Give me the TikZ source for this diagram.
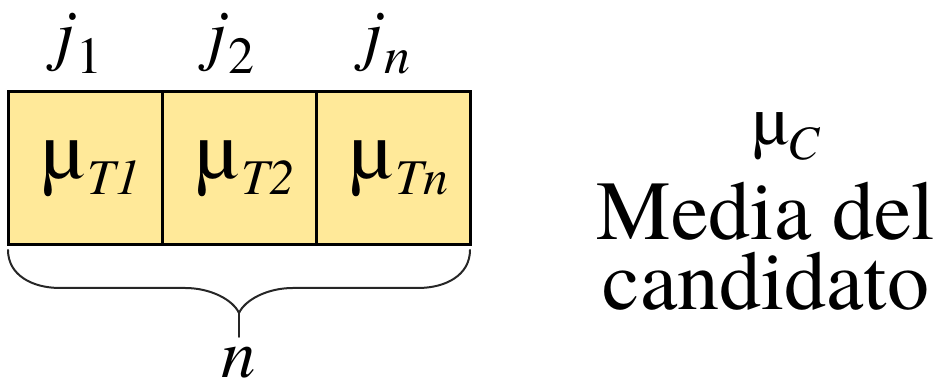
\documentclass[tikz,border=0pt]{standalone}
\usepackage{fontspec}
\setmainfont{texgyretermes}[Extension=.otf, UprightFont=*-regular, ItalicFont=*-italic, BoldFont=*-bold, BoldItalicFont=*-bolditalic]
\usepackage{tikz}
\usetikzlibrary{positioning,calc}

\definecolor{cellyellow}{RGB}{255,233,153}

\newcommand{\boxsub}[1]{\hspace{2pt}\raisebox{-8pt}{\fontsize{25}{25}\selectfont\itshape #1}}
\newcommand{\jsub}[1]{\hspace{1pt}\raisebox{-8pt}{\fontsize{26}{26}\selectfont\upshape #1}}

\begin{document}
\begin{tikzpicture}[
    x=1pt, y=1pt,
    cell/.style={rectangle, draw=black, line width=1.5pt, fill=cellyellow, minimum width=77pt, minimum height=76.5pt, outer sep=0pt, inner sep=0pt, font=\fontsize{42}{42}\selectfont},
    jlabel/.style={inner sep=0pt, font=\fontsize{34.5}{34.5}\selectfont\itshape},
    bigtext/.style={inner sep=0pt, font=\fontsize{42}{42}\selectfont},
    brace/.style={line width=1pt, draw=black!85, line join=round, line cap=round}
]
\useasboundingbox (0,0) rectangle (468.5,191.5);

% the n cells
\node[cell] (t1) at (42.5,107.25) {\hspace{6pt}µ\boxsub{T1}};
\node[cell, right=0pt of t1] (t2) {\hspace{6pt}µ\boxsub{T2}};
\node[cell, right=0pt of t2] (tn) {\hspace{6pt}µ\boxsub{Tn}};

\node[jlabel, above=9pt of t1, xshift=-3pt] (j1) {j\jsub{1}};
\node[jlabel, above=9pt of t2, xshift=-4pt] (j2) {j\jsub{2}};
\node[jlabel, above=9pt of tn, xshift=-3pt] (jn) {j\jsub{\itshape n}};

% brace under the cells
\coordinate (bl) at ([yshift=-2.5pt]t1.south west);
\coordinate (br) at ([yshift=-2.5pt]tn.south east);
\coordinate (bm) at ($(bl)!0.5!(br)$);
\coordinate (btip) at ([yshift=-31.5pt]bm);
\coordinate (bstem) at ([yshift=-43.5pt]bm);

\draw[brace] (bl) .. controls ([yshift=-12.5pt]bl) and ([xshift=12pt,yshift=-19pt]bl) .. ([xshift=26pt,yshift=-19pt]bl)
    -- ([xshift=-27pt,yshift=-19pt]bm) .. controls ([xshift=-14pt,yshift=-19pt]bm) and ([xshift=-3pt,yshift=-25pt]bm) .. (btip)
    .. controls ([xshift=3pt,yshift=-25pt]bm) and ([xshift=14pt,yshift=-19pt]bm) .. ([xshift=27pt,yshift=-19pt]bm)
    -- ([xshift=-26pt,yshift=-19pt]br) .. controls ([xshift=-12pt,yshift=-19pt]br) and ([yshift=-12.5pt]br) .. (br);
\draw[brace] (btip) -- (bstem);
\node[jlabel, below=5pt of bstem] (nlab) {n};

% candidate mean
\node[bigtext, anchor=base] (media) at (383,71.5) {Media del};
\node[bigtext, anchor=base] (cand) at ([yshift=-35pt]media.base) {candidato};
\node[inner sep=0pt, anchor=base, font=\fontsize{35.5}{35.5}\selectfont] (muc) at ([xshift=10pt,yshift=47.5pt]media.base) {µ\raisebox{-7.5pt}{\fontsize{24}{24}\selectfont\itshape C}};
\end{tikzpicture}
\end{document}
